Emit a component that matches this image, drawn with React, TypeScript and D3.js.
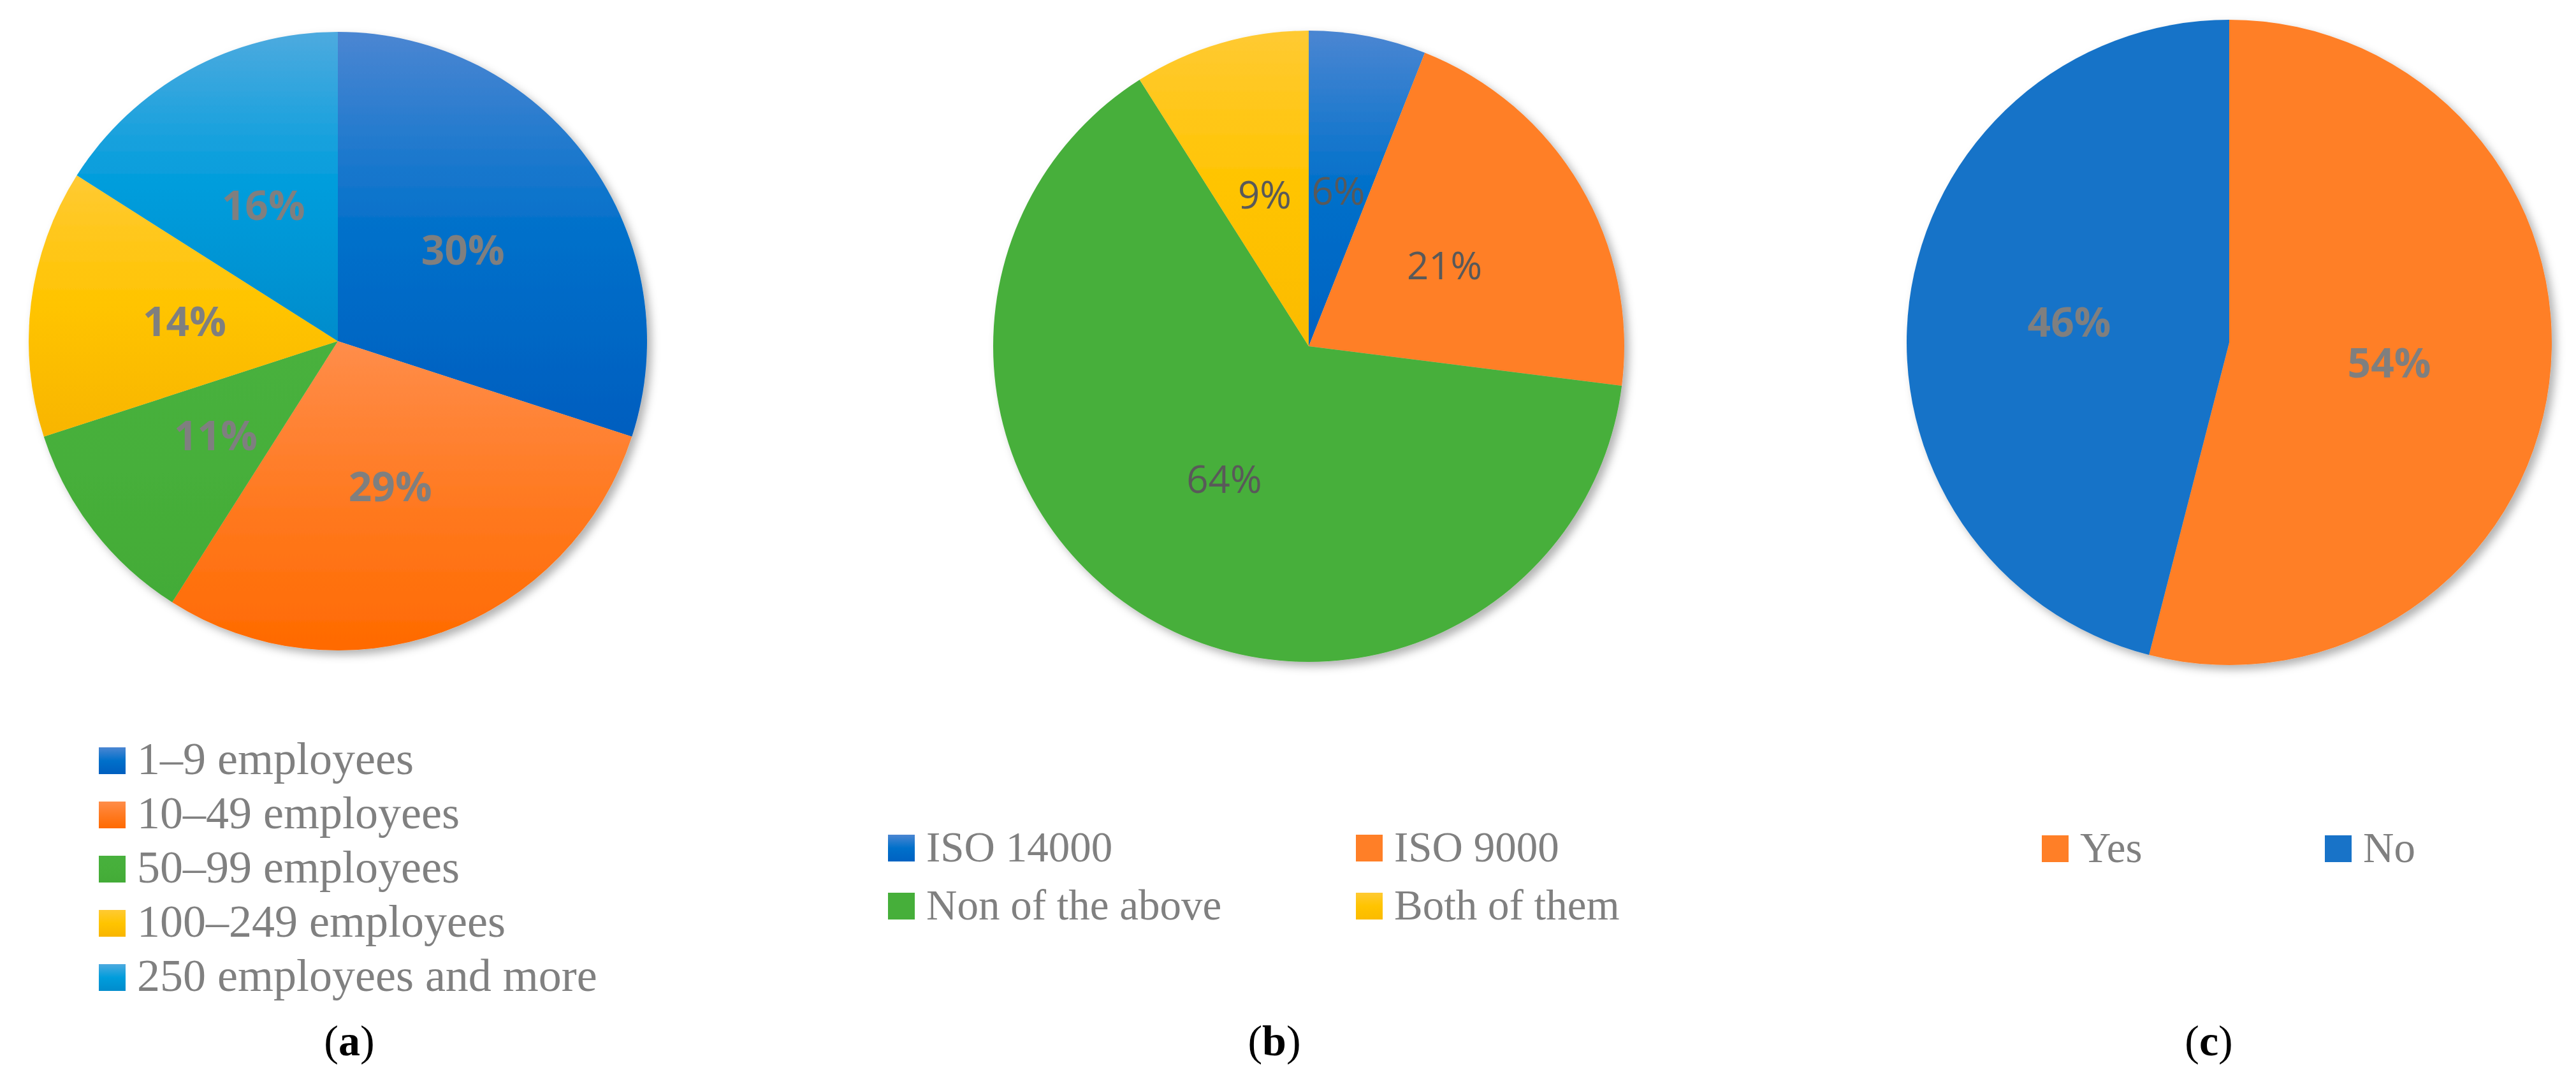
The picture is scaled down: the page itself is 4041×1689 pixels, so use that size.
import React from "react";
import * as d3 from "d3";

const sizeCategories = ["1–9 employees", "10–49 employees", "50–99 employees", "100–249 employees", "250 employees and more"];
const sizeValues = [30, 29, 11, 14, 16];

const isoCategories = ["ISO 14000", "ISO 9000", "Non of the above", "Both of them"];
const isoValues = [6, 21, 64, 9];

const ynCategories = ["Yes", "No"];
const ynValues = [54, 46];

const captions = ["a", "b", "c"];

type Fill = { id: string; stops: string[] };

const sizeFills: Fill[] = [
  { id: "ga0", stops: ["#4b86d2", "#0070ca", "#005ebf"] },
  { id: "ga1", stops: ["#ff8d4a", "#ff7a22", "#ff6a00"] },
  { id: "ga2", stops: ["#48b13d", "#46af3a", "#43ab37"] },
  { id: "ga3", stops: ["#ffca33", "#ffc400", "#f8b500"] },
  { id: "ga4", stops: ["#4daadf", "#009ddc", "#008ccc"] },
];
const isoFills: Fill[] = [
  { id: "gb0", stops: ["#4b86d2", "#0070ca", "#0062c2"] },
  { id: "gb1", stops: ["#ff7f27", "#ff7f27", "#ff7f27"] },
  { id: "gb2", stops: ["#46af3a", "#46af3a", "#46af3a"] },
  { id: "gb3", stops: ["#ffca33", "#ffc400", "#fbbb00"] },
];
const ynFills: Fill[] = [
  { id: "gc0", stops: ["#ff7f27", "#ff7f27", "#ff7f27"] },
  { id: "gc1", stops: ["#1873c8", "#1873c8", "#1873c8"] },
];

type PieCfg = {
  cx: number; cy: number; r: number;
  values: number[]; labels: string[]; fills: Fill[];
  labelWeight: number; labelColor: string; labelSize: number;
  legendX: number[]; legendY: number[]; legendCols: number; legendSize: number;
  captionX: number; caption: string;
};

const pies: PieCfg[] = [
  {
    cx: 530, cy: 535, r: 485, values: sizeValues, labels: sizeCategories, fills: sizeFills,
    labelWeight: 700, labelColor: "#7f7f7f", labelSize: 64,
    legendX: [155], legendY: [1172, 1257, 1342, 1427, 1512], legendCols: 1, legendSize: 72,
    captionX: 548, caption: captions[0],
  },
  {
    cx: 2053, cy: 543, r: 495, values: isoValues, labels: isoCategories, fills: isoFills,
    labelWeight: 400, labelColor: "#595959", labelSize: 60,
    legendX: [1393, 2127], legendY: [1309, 1400], legendCols: 2, legendSize: 67,
    captionX: 1999, caption: captions[1],
  },
  {
    cx: 3497, cy: 537, r: 506, values: ynValues, labels: ynCategories, fills: ynFills,
    labelWeight: 700, labelColor: "#7f7f7f", labelSize: 64,
    legendX: [3203, 3647], legendY: [1310], legendCols: 2, legendSize: 67,
    captionX: 3465, caption: captions[2],
  },
];

function Pie({ cfg }: { cfg: PieCfg }) {
  const pie = d3.pie<number>().sort(null).value((d) => d);
  const arcs = pie(cfg.values);
  const arc = d3.arc<d3.PieArcDatum<number>>().innerRadius(0).outerRadius(cfg.r);
  const labelArc = d3.arc<d3.PieArcDatum<number>>().innerRadius(cfg.r * 0.5).outerRadius(cfg.r * 0.5);
  const sq = 42;
  return (
    <g>
      <g transform={`translate(${cfg.cx},${cfg.cy})`} filter="url(#shadow)">
        {arcs.map((a, i) => (
          <path key={i} d={arc(a) || ""} fill={`url(#${cfg.fills[i].id})`} />
        ))}
      </g>
      <g transform={`translate(${cfg.cx},${cfg.cy})`}>
        {arcs.map((a, i) => {
          const [x, y] = labelArc.centroid(a);
          return (
            <text key={i} x={x} y={y + cfg.labelSize * 0.357} textAnchor="middle"
              fontFamily="'Open Sans', 'Noto Sans', sans-serif" fontWeight={cfg.labelWeight}
              fontSize={cfg.labelSize} fill={cfg.labelColor}>
              {`${a.data}%`}
            </text>
          );
        })}
      </g>
      <g>
        {cfg.labels.map((lab, i) => {
          const col = i % cfg.legendCols;
          const row = Math.floor(i / cfg.legendCols);
          const x = cfg.legendX[col];
          const y = cfg.legendY[row];
          return (
            <g key={i}>
              <rect x={x} y={y} width={sq} height={sq} fill={`url(#${cfg.fills[i].id})`} />
              <text x={x + 60} y={y + sq} fontFamily="'Liberation Serif', 'Times New Roman', serif"
                fontSize={cfg.legendSize} fill="#808080">{lab}</text>
            </g>
          );
        })}
      </g>
      <text x={cfg.captionX} y={1655} textAnchor="middle" fontFamily="'Liberation Serif', 'Times New Roman', serif"
        fontSize={68} fill="#000">
        (<tspan fontWeight={700}>{cfg.caption}</tspan>)
      </text>
    </g>
  );
}

export default function App() {
  const allFills = [...sizeFills, ...isoFills, ...ynFills];
  return (
    <svg width={4041} height={1689} style={{ position: "absolute", left: 0, top: 0, background: "#fff" }}>
      <defs>
        {allFills.map((f) => (
          <linearGradient key={f.id} id={f.id} x1="0" y1="0" x2="0" y2="1">
            <stop offset="0%" stopColor={f.stops[0]} />
            <stop offset="50%" stopColor={f.stops[1]} />
            <stop offset="100%" stopColor={f.stops[2]} />
          </linearGradient>
        ))}
        <filter id="shadow" x="-10%" y="-10%" width="125%" height="125%">
          <feDropShadow dx="7" dy="7" stdDeviation="7" floodColor="#000" floodOpacity="0.3" />
        </filter>
      </defs>
      <rect x={0} y={0} width={4041} height={1689} fill="#fff" />
      {pies.map((p, i) => (
        <Pie key={i} cfg={p} />
      ))}
    </svg>
  );
}
